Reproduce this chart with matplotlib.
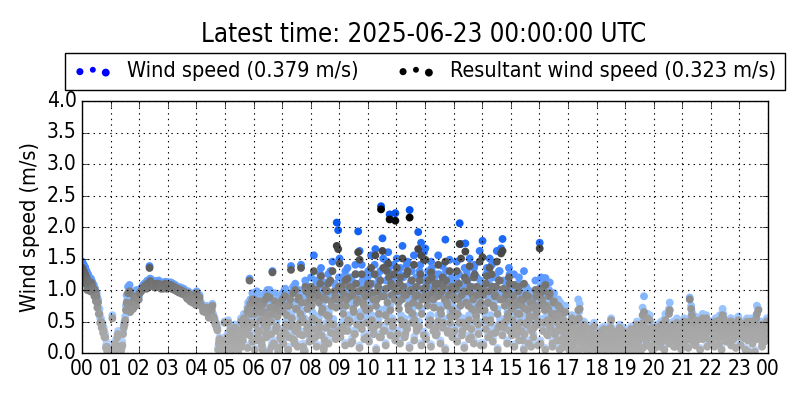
import matplotlib
matplotlib.use("Agg")
import matplotlib.pyplot as plt
import numpy as np
from matplotlib.colors import LinearSegmentedColormap, Normalize
from matplotlib.legend_handler import HandlerPathCollection

title = "Latest time: 2025-06-23 00:00:00 UTC"
ws_label = "Wind speed (0.379 m/s)"
rs_label = "Resultant wind speed (0.323 m/s)"
ylabel = "Wind speed (m/s)"
hour_labels = ["%02d" % (h % 24) for h in range(25)]

# wind speed per hour, first set of samples (in time order within each hour)
ws_hours_a = [
    [1.45,1.40,1.36,1.30,1.25,1.20,1.18,1.12,1.08,1.02,0.95,0.85,0.70,0.55,0.48,0.40,0.30,0.18,0.10,0.05],
    [0.12,0.60,0.05,0.20,0.08,0.35,0.15,0.05,0.18,0.45,0.58,0.92,1.05,1.08,0.95,0.85,0.98,0.90,1.00,0.95],
    [0.98,1.02,1.05,1.08,1.10,1.06,1.12,1.38,1.15,1.10,1.12,1.08,1.14,1.10,1.12,1.06,1.10,1.08,1.13,1.05],
    [1.10,1.08,1.12,1.05,1.06,1.08,1.02,1.05,1.00,1.04,0.98,1.02,0.95,0.92,0.98,0.88,0.95,0.85,0.90,0.82],
    [0.98,0.85,0.92,0.80,0.75,0.72,0.70,0.75,0.65,0.62,0.68,0.78,0.58,0.50,0.45,0.10,0.25,0.05,0.15,0.03],
    [0.25,0.10,0.52,0.05,0.20,0.35,0.15,0.45,0.30,0.08,0.40,0.55,0.25,0.62,0.50,0.35,0.80,1.18,0.70,0.95],
    [0.90,0.55,0.98,0.30,0.75,0.85,0.10,0.65,0.95,0.45,0.70,1.00,0.60,1.30,0.20,0.85,0.50,0.05,0.78,0.92],
    [0.95,0.40,1.02,0.70,0.10,0.85,1.38,0.55,0.25,1.10,0.80,0.95,0.35,1.40,0.65,0.05,1.15,0.90,0.50,1.02],
    [1.20,0.65,1.55,0.30,0.95,1.05,0.45,1.35,0.80,0.15,1.12,0.70,1.25,0.55,0.92,1.45,0.35,1.00,2.07,1.95],
    [1.50,0.85,1.10,0.40,1.30,0.95,0.60,1.20,0.20,1.05,0.75,1.40,0.90,1.93,1.62,0.50,1.15,0.85,1.00,0.30],
    [1.30,0.80,1.55,1.10,0.45,1.65,0.95,1.20,0.30,2.33,1.82,1.00,0.70,1.45,1.60,2.20,1.25,0.55,1.40,2.22],
    [1.50,0.90,1.25,0.60,1.70,1.05,0.35,1.40,0.85,2.27,1.15,0.70,1.55,1.00,0.45,1.92,1.30,1.75,0.95,1.60],
    [1.66,0.95,1.30,0.50,1.45,1.10,0.80,1.25,0.35,1.55,1.05,0.70,1.38,1.20,1.80,0.90,0.40,1.48,1.15,0.75],
    [1.20,0.65,1.45,0.95,2.06,1.73,0.40,1.10,1.74,1.30,0.85,1.50,0.30,1.05,1.35,0.75,1.20,0.50,1.62,0.90],
    [1.78,1.10,0.60,1.35,0.90,1.50,0.35,1.20,0.80,1.05,1.62,0.45,1.30,1.66,1.81,0.95,0.55,1.15,0.70,1.25],
    [1.05,0.60,1.25,0.85,0.35,1.10,0.70,0.95,0.25,1.30,0.80,0.50,1.00,0.65,0.15,0.90,0.45,1.15,0.75,0.55],
    [1.75,1.20,0.90,0.55,1.19,0.35,0.80,1.12,0.60,0.20,0.95,0.70,0.40,0.85,0.10,0.65,0.50,0.30,0.75,0.45],
    [0.30,0.45,0.15,0.55,0.25,0.08,0.40,0.85,0.78,0.20,0.35,0.50,0.10,0.28,0.42,0.05,0.18,0.32,0.48,0.22],
    [0.20,0.35,0.08,0.28,0.15,0.42,0.05,0.25,0.32,0.12,0.55,0.22,0.38,0.10,0.30,0.18,0.45,0.06,0.26,0.14],
    [0.25,0.10,0.35,0.18,0.42,0.05,0.30,0.22,0.50,0.15,0.38,0.28,0.72,0.90,0.45,0.20,0.32,0.60,0.12,0.40],
    [0.35,0.22,0.45,0.30,0.15,0.50,0.40,0.28,0.62,0.38,0.25,0.80,0.48,0.20,0.42,0.33,0.55,0.18,0.45,0.30],
    [0.45,0.55,0.35,0.50,0.30,0.88,0.75,0.48,0.40,0.58,0.25,0.52,0.44,0.38,0.62,0.46,0.32,0.54,0.42,0.50],
    [0.40,0.50,0.35,0.55,0.45,0.30,0.60,0.48,0.70,0.42,0.52,0.38,0.25,0.46,0.55,0.32,0.44,0.50,0.36,0.58],
    [0.45,0.35,0.50,0.28,0.40,0.55,0.05,0.38,0.48,0.32,0.42,0.52,0.75,0.70,0.30,0.45,0.20,0.50,0.40,0.55],
]

# wind speed per hour, second set of samples (interleaved in time with the first)
ws_hours_b = [
    [1.30,1.22,1.15,1.05,1.10,1.02,1.15,1.00,0.95,0.88,0.80,0.70,0.55,0.45,0.38,0.30,0.12,0.05,0.02,0.08],
    [0.02,0.10,0.15,0.05,0.30,0.02,0.08,0.12,0.35,0.50,0.75,0.85,0.80,0.72,0.88,0.78,0.92,0.82,0.95,0.90],
    [1.00,1.04,1.08,1.10,1.12,1.15,1.10,1.18,1.12,1.15,1.08,1.12,1.10,1.15,1.08,1.12,1.05,1.10,1.08,1.12],
    [1.12,1.10,1.06,1.10,1.04,1.06,1.05,1.00,1.02,0.98,1.00,0.96,0.98,0.90,0.94,0.86,0.92,0.88,0.84,0.80],
    [0.90,0.88,0.82,0.78,0.70,0.74,0.68,0.72,0.60,0.66,0.72,0.62,0.55,0.48,0.40,0.20,0.12,0.08,0.02,0.50],
    [0.05,0.30,0.15,0.40,0.10,0.25,0.45,0.20,0.05,0.35,0.28,0.15,0.50,0.40,0.60,0.72,0.45,0.85,0.55,0.90],
    [0.70,0.80,0.40,0.92,0.60,0.25,0.88,0.75,0.35,1.00,0.55,0.82,0.15,0.70,0.95,0.40,0.65,0.85,0.30,0.75],
    [0.75,1.00,0.50,0.85,0.30,0.95,0.62,1.05,0.20,0.80,0.45,1.00,0.70,0.90,0.15,0.55,1.08,0.78,0.35,0.95],
    [0.85,1.05,0.60,1.15,0.40,0.90,1.25,0.75,1.00,0.25,0.95,1.10,0.65,1.30,0.85,0.50,1.10,0.80,0.95,1.20],
    [0.95,1.20,0.70,1.05,0.85,1.35,0.55,1.00,1.15,0.80,0.35,1.25,0.95,1.10,0.65,1.40,0.90,1.05,0.75,1.20],
    [1.05,1.25,0.60,0.95,1.40,0.85,1.10,0.70,1.30,1.00,1.50,0.40,1.15,0.90,1.35,0.75,1.05,1.20,0.95,1.10],
    [1.10,0.80,1.35,0.95,1.20,0.55,1.05,1.45,0.75,1.10,1.30,0.90,0.60,1.20,1.05,0.85,1.40,0.70,1.15,1.00],
    [1.20,0.85,1.05,0.60,1.35,0.95,1.15,0.45,1.00,1.25,0.75,1.10,0.55,0.95,1.30,0.85,1.05,0.65,1.20,1.00],
    [0.95,1.15,0.70,1.25,0.85,1.05,0.55,1.35,0.90,1.10,0.60,1.20,0.80,0.95,1.40,0.65,1.05,0.85,1.15,0.75],
    [1.05,0.75,1.25,0.90,1.10,0.60,1.40,0.85,1.00,1.20,0.70,1.30,0.95,0.50,1.15,0.85,1.05,0.65,1.35,0.90],
    [0.80,1.00,0.45,0.90,0.70,1.20,0.55,0.85,0.95,0.35,1.05,0.75,0.60,0.90,0.40,0.80,0.65,1.00,0.50,0.85],
    [1.05,0.95,1.10,0.75,0.85,0.60,1.00,0.45,0.70,0.90,0.35,0.65,0.55,0.25,0.80,0.40,0.60,0.20,0.50,0.35],
    [0.50,0.35,0.60,0.20,0.42,0.55,0.30,0.65,0.45,0.15,0.38,0.25,0.45,0.10,0.30,0.40,0.20,0.35,0.12,0.30],
    [0.30,0.12,0.22,0.40,0.18,0.08,0.35,0.25,0.15,0.45,0.28,0.05,0.20,0.35,0.10,0.25,0.32,0.15,0.40,0.22],
    [0.15,0.30,0.22,0.08,0.40,0.28,0.12,0.35,0.20,0.45,0.05,0.30,0.55,0.40,0.25,0.62,0.35,0.15,0.45,0.28],
    [0.25,0.40,0.18,0.32,0.48,0.22,0.38,0.55,0.30,0.45,0.70,0.35,0.28,0.50,0.15,0.40,0.30,0.48,0.35,0.42],
    [0.38,0.48,0.25,0.42,0.55,0.35,0.65,0.45,0.52,0.30,0.48,0.40,0.56,0.35,0.50,0.42,0.60,0.38,0.48,0.44],
    [0.45,0.38,0.52,0.42,0.30,0.48,0.55,0.36,0.62,0.45,0.40,0.50,0.35,0.55,0.42,0.48,0.38,0.52,0.45,0.40],
    [0.38,0.48,0.30,0.45,0.52,0.35,0.42,0.55,0.25,0.48,0.38,0.60,0.45,0.35,0.50,0.40,0.30,0.48,0.52,0.42],
]

# wind speed per hour, third set: the low-speed samples
ws_hours_c = [
    [], [], [], [], [],
    [0.16,0.30,0.08,0.40,0.20,0.05,0.36,0.25,0.46,0.12,0.33,0.22],
    [0.08,0.26,0.42,0.16,0.52,0.30,0.05,0.36,0.20,0.46,0.12,0.28],
    [0.20,0.36,0.08,0.50,0.28,0.42,0.14,0.56,0.34,0.05,0.45,0.24],
    [0.26,0.46,0.14,0.56,0.34,0.08,0.48,0.20,0.40,0.54,0.28,0.42],
    [0.32,0.50,0.16,0.42,0.60,0.24,0.36,0.54,0.12,0.46,0.28,0.58],
    [0.24,0.48,0.36,0.08,0.54,0.30,0.42,0.16,0.60,0.34,0.50,0.26],
    [0.36,0.20,0.54,0.30,0.46,0.12,0.58,0.26,0.42,0.50,0.16,0.34],
    [0.28,0.54,0.14,0.42,0.34,0.60,0.20,0.48,0.08,0.40,0.58,0.30],
    [0.42,0.24,0.58,0.34,0.12,0.50,0.28,0.46,0.20,0.60,0.36,0.16],
    [0.16,0.46,0.30,0.58,0.24,0.40,0.08,0.54,0.34,0.48,0.20,0.42],
    [0.34,0.14,0.50,0.26,0.42,0.08,0.58,0.20,0.46,0.30,0.54,0.16],
    [0.20,0.42,0.08,0.34,0.50,0.14,0.38,0.26,0.54,0.12,0.30,0.46],
    [0.08,0.28,0.16,0.36,0.05,0.24,0.42,0.12,0.30,0.20,0.34,0.14],
    [0.05,0.20,0.30,0.12,0.25,0.36,0.08,0.16,0.28,0.22,0.10,0.34],
    [0.14,0.05,0.26,0.34,0.10,0.20,0.38,0.12,0.28,0.16,0.30,0.08],
    [0.12,0.26,0.16,0.34,0.08,0.28,0.20,0.36,0.14,0.30,0.22,0.10],
    [0.20,0.30,0.12,0.36,0.22,0.16,0.34,0.08,0.28,0.38,0.14,0.26],
    [0.26,0.14,0.34,0.20,0.08,0.30,0.24,0.36,0.16,0.28,0.12,0.32],
    [0.16,0.30,0.08,0.26,0.36,0.20,0.05,0.28,0.34,0.14,0.24,0.32],
]

# resultant wind speed per hour, first set
rs_hours_a = [
    [1.35,1.30,1.25,1.20,1.15,1.10,1.12,1.05,1.02,0.98,0.90,0.80,0.62,0.50,0.45,0.35,0.25,0.10,0.05,0.02],
    [0.05,0.55,0.02,0.15,0.03,0.30,0.10,0.02,0.12,0.40,0.52,0.80,0.95,0.98,0.75,0.70,0.90,0.78,0.88,0.85],
    [0.95,0.98,1.00,1.04,1.05,1.02,1.08,1.35,1.10,1.06,1.08,1.04,1.10,1.05,1.08,1.02,1.06,1.04,1.10,1.02],
    [1.06,1.05,1.08,1.02,1.03,1.04,0.98,1.02,0.97,1.00,0.95,0.98,0.92,0.88,0.95,0.85,0.92,0.80,0.86,0.78],
    [0.95,0.82,0.88,0.76,0.72,0.68,0.66,0.72,0.62,0.58,0.65,0.75,0.55,0.46,0.40,0.05,0.22,0.02,0.10,0.01],
    [0.20,0.05,0.48,0.02,0.15,0.30,0.10,0.40,0.25,0.04,0.35,0.50,0.20,0.55,0.45,0.30,0.70,1.15,0.62,0.85],
    [0.85,0.45,0.80,0.25,0.65,0.75,0.05,0.55,0.85,0.40,0.60,0.88,0.50,1.28,0.15,0.72,0.42,0.02,0.68,0.80],
    [0.85,0.35,0.90,0.60,0.05,0.75,1.32,0.45,0.20,1.00,0.70,0.85,0.30,1.35,0.55,0.02,1.05,0.80,0.45,0.92],
    [1.05,0.55,1.30,0.25,0.85,0.92,0.40,1.22,0.70,0.10,1.00,0.60,1.10,0.48,0.82,1.30,0.30,0.90,1.70,1.65],
    [1.42,0.75,0.98,0.35,1.15,0.85,0.52,1.05,0.15,0.92,0.65,1.25,0.80,1.60,1.48,0.45,1.00,0.75,0.90,0.25],
    [1.10,0.70,1.35,0.95,0.40,1.55,0.85,1.05,0.25,2.28,1.62,0.90,0.60,1.30,1.42,2.12,1.10,0.50,1.25,2.10],
    [1.35,0.80,1.10,0.52,1.50,0.95,0.30,1.25,0.75,2.15,1.00,0.62,1.40,0.90,0.40,1.65,1.15,1.55,0.85,1.48],
    [1.48,0.85,1.15,0.45,1.28,0.95,0.72,1.10,0.30,1.40,0.92,0.62,1.20,1.05,1.45,0.80,0.35,1.30,1.00,0.68],
    [1.05,0.58,1.30,0.85,1.73,1.50,0.35,0.98,1.61,1.15,0.75,1.38,0.25,0.92,1.20,0.65,1.05,0.45,1.45,0.80],
    [1.52,0.98,0.52,1.22,0.80,1.35,0.30,1.05,0.72,0.92,1.45,0.40,1.15,1.58,1.62,0.85,0.50,1.00,0.62,1.10],
    [0.92,0.52,1.08,0.75,0.30,0.98,0.62,0.85,0.20,1.10,0.70,0.45,0.90,0.58,0.10,0.80,0.40,1.00,0.65,0.50],
    [1.66,1.02,0.80,0.48,1.08,0.30,0.70,0.95,0.52,0.15,0.82,0.62,0.35,0.75,0.05,0.58,0.45,0.25,0.65,0.40],
    [0.25,0.40,0.10,0.50,0.20,0.04,0.35,0.68,0.70,0.15,0.30,0.45,0.06,0.24,0.38,0.02,0.14,0.28,0.42,0.18],
    [0.15,0.30,0.04,0.24,0.10,0.38,0.02,0.20,0.28,0.08,0.52,0.18,0.34,0.06,0.25,0.14,0.40,0.03,0.22,0.10],
    [0.20,0.06,0.30,0.14,0.38,0.02,0.25,0.18,0.45,0.10,0.34,0.24,0.60,0.65,0.40,0.15,0.28,0.52,0.08,0.35],
    [0.30,0.18,0.40,0.25,0.10,0.45,0.35,0.24,0.52,0.34,0.20,0.68,0.42,0.15,0.38,0.28,0.48,0.14,0.40,0.26],
    [0.40,0.50,0.30,0.45,0.25,0.85,0.70,0.44,0.36,0.52,0.20,0.48,0.40,0.34,0.55,0.42,0.28,0.50,0.38,0.45],
    [0.35,0.45,0.30,0.50,0.40,0.25,0.52,0.44,0.60,0.38,0.48,0.34,0.20,0.42,0.50,0.28,0.40,0.45,0.32,0.52],
    [0.40,0.30,0.45,0.24,0.35,0.50,0.02,0.34,0.44,0.28,0.38,0.48,0.62,0.68,0.25,0.40,0.15,0.45,0.35,0.50],
]

# resultant wind speed per hour, second set
rs_hours_b = [
    [1.25,1.18,1.10,1.00,1.05,0.98,1.10,0.96,0.90,0.82,0.72,0.62,0.48,0.40,0.32,0.25,0.08,0.02,0.01,0.04],
    [0.01,0.05,0.10,0.02,0.25,0.01,0.04,0.08,0.30,0.45,0.68,0.78,0.72,0.65,0.80,0.70,0.85,0.75,0.88,0.85],
    [0.96,1.00,1.04,1.06,1.08,1.10,1.06,1.14,1.08,1.10,1.04,1.08,1.06,1.10,1.04,1.08,1.02,1.06,1.04,1.08],
    [1.08,1.06,1.02,1.06,1.00,1.02,1.00,0.96,0.98,0.94,0.96,0.92,0.94,0.86,0.90,0.82,0.88,0.84,0.80,0.76],
    [0.86,0.84,0.78,0.74,0.66,0.70,0.64,0.68,0.56,0.62,0.68,0.58,0.50,0.44,0.36,0.15,0.08,0.04,0.01,0.48],
    [0.02,0.25,0.10,0.36,0.06,0.20,0.40,0.15,0.02,0.30,0.24,0.10,0.45,0.35,0.52,0.65,0.40,0.78,0.48,0.82],
    [0.62,0.70,0.35,0.82,0.52,0.20,0.78,0.65,0.30,0.90,0.48,0.72,0.10,0.62,0.82,0.35,0.58,0.75,0.25,0.68],
    [0.65,0.90,0.45,0.75,0.25,0.85,0.55,0.95,0.15,0.70,0.40,0.88,0.62,0.80,0.10,0.48,0.98,0.70,0.30,0.85],
    [0.75,0.92,0.52,1.00,0.35,0.80,1.10,0.65,0.88,0.20,0.85,0.98,0.58,1.15,0.75,0.45,0.98,0.72,0.85,1.05],
    [0.85,1.05,0.62,0.92,0.75,1.18,0.48,0.90,1.02,0.70,0.30,1.10,0.85,0.98,0.58,1.25,0.80,0.92,0.68,1.05],
    [0.92,1.10,0.52,0.85,1.25,0.75,0.98,0.62,1.15,0.90,1.35,0.35,1.02,0.80,1.20,0.68,0.92,1.05,0.85,0.98],
    [0.98,0.70,1.20,0.85,1.05,0.48,0.92,1.30,0.68,0.98,1.15,0.80,0.52,1.05,0.92,0.75,1.25,0.62,1.02,0.90],
    [1.05,0.75,0.92,0.52,1.20,0.85,1.02,0.40,0.90,1.10,0.68,0.98,0.48,0.85,1.15,0.75,0.92,0.58,1.05,0.90],
    [0.85,1.02,0.62,1.10,0.75,0.92,0.48,1.20,0.80,0.98,0.52,1.05,0.70,0.85,1.25,0.58,0.92,0.75,1.02,0.68],
    [0.92,0.68,1.10,0.80,0.98,0.52,1.25,0.75,0.90,1.05,0.62,1.15,0.85,0.45,1.02,0.75,0.92,0.58,1.20,0.80],
    [0.70,0.90,0.40,0.80,0.62,1.05,0.48,0.75,0.85,0.30,0.92,0.68,0.52,0.80,0.35,0.72,0.58,0.90,0.45,0.75],
    [0.95,0.85,0.98,0.68,0.75,0.52,0.90,0.40,0.62,0.80,0.30,0.58,0.48,0.20,0.70,0.35,0.52,0.15,0.45,0.30],
    [0.45,0.30,0.55,0.15,0.38,0.50,0.25,0.55,0.40,0.10,0.34,0.20,0.40,0.06,0.25,0.36,0.15,0.30,0.08,0.25],
    [0.25,0.08,0.18,0.35,0.14,0.04,0.30,0.20,0.10,0.40,0.24,0.02,0.16,0.30,0.06,0.20,0.28,0.10,0.35,0.18],
    [0.10,0.25,0.18,0.04,0.35,0.24,0.08,0.30,0.15,0.40,0.02,0.25,0.48,0.35,0.20,0.55,0.30,0.10,0.40,0.24],
    [0.20,0.35,0.14,0.28,0.42,0.18,0.34,0.48,0.26,0.40,0.62,0.30,0.24,0.45,0.10,0.35,0.26,0.42,0.30,0.38],
    [0.34,0.44,0.20,0.38,0.50,0.30,0.60,0.40,0.48,0.26,0.44,0.36,0.52,0.30,0.45,0.38,0.55,0.34,0.44,0.40],
    [0.40,0.34,0.48,0.38,0.26,0.44,0.50,0.32,0.55,0.40,0.36,0.45,0.30,0.50,0.38,0.44,0.34,0.48,0.40,0.36],
    [0.34,0.44,0.25,0.40,0.48,0.30,0.38,0.50,0.20,0.44,0.34,0.55,0.40,0.30,0.45,0.36,0.25,0.44,0.48,0.38],
]

# resultant wind speed per hour, third set: the low-speed samples
rs_hours_c = [
    [], [], [], [], [],
    [0.10,0.25,0.05,0.35,0.15,0.02,0.30,0.20,0.40,0.08,0.28,0.18],
    [0.05,0.20,0.35,0.12,0.45,0.25,0.02,0.30,0.15,0.40,0.08,0.22],
    [0.15,0.30,0.05,0.42,0.22,0.35,0.10,0.48,0.28,0.02,0.38,0.18],
    [0.20,0.38,0.10,0.48,0.28,0.05,0.40,0.15,0.32,0.45,0.22,0.35],
    [0.25,0.42,0.12,0.35,0.50,0.18,0.30,0.45,0.08,0.38,0.22,0.48],
    [0.18,0.40,0.30,0.05,0.45,0.25,0.35,0.12,0.50,0.28,0.42,0.20],
    [0.30,0.15,0.45,0.25,0.38,0.08,0.48,0.20,0.35,0.42,0.12,0.28],
    [0.22,0.45,0.10,0.35,0.28,0.50,0.15,0.40,0.05,0.32,0.48,0.25],
    [0.35,0.18,0.48,0.28,0.08,0.42,0.22,0.38,0.15,0.50,0.30,0.12],
    [0.12,0.38,0.25,0.48,0.18,0.32,0.05,0.45,0.28,0.40,0.15,0.35],
    [0.28,0.10,0.42,0.20,0.35,0.05,0.48,0.15,0.38,0.25,0.45,0.12],
    [0.15,0.35,0.05,0.28,0.42,0.10,0.32,0.20,0.45,0.08,0.25,0.38],
    [0.05,0.22,0.12,0.30,0.02,0.18,0.35,0.08,0.25,0.15,0.28,0.10],
    [0.02,0.15,0.25,0.08,0.20,0.30,0.05,0.12,0.22,0.18,0.06,0.28],
    [0.10,0.02,0.20,0.28,0.06,0.15,0.32,0.08,0.22,0.12,0.25,0.04],
    [0.08,0.20,0.12,0.28,0.05,0.22,0.15,0.30,0.10,0.25,0.18,0.06],
    [0.15,0.25,0.08,0.30,0.18,0.12,0.28,0.05,0.22,0.32,0.10,0.20],
    [0.20,0.10,0.28,0.15,0.05,0.25,0.18,0.30,0.12,0.22,0.08,0.26],
    [0.12,0.25,0.05,0.20,0.30,0.15,0.02,0.22,0.28,0.10,0.18,0.26],
]


def flatten(hours, offset):
    t, v = [], []
    for h, vals in enumerate(hours):
        n = len(vals)
        for i, val in enumerate(vals):
            t.append(h + (i + offset) / n)
            v.append(val)
    return t, v


def series(sets_offsets):
    t_all, v_all = [], []
    for hours, off in sets_offsets:
        t, v = flatten(hours, off)
        t_all += t
        v_all += v
    order = np.argsort(t_all, kind="stable")
    return np.array(t_all)[order], np.array(v_all)[order]


t_ws, v_ws = series([(ws_hours_a, 0.25), (ws_hours_b, 0.75), (ws_hours_c, 0.5)])
t_rs, v_rs = series([(rs_hours_a, 0.25), (rs_hours_b, 0.75), (rs_hours_c, 0.5)])

plt.style.use("classic")
plt.rcParams["font.family"] = ["DejaVu Sans"]
plt.rcParams["font.stretch"] = "condensed"
plt.rcParams["figure.facecolor"] = "white"
plt.rcParams["savefig.facecolor"] = "white"

fig = plt.figure(figsize=(8, 4), dpi=100)
ax = fig.add_axes([0.1025, 0.1175, 0.8575, 0.63])

blue_cmap = LinearSegmentedColormap.from_list(
    "wsb", [(0.0, "#bcd6ff"), (0.125, "#b0d0ff"), (0.333, "#90c0ff"),
            (0.417, "#72a9ff"), (0.625, "#3a80ff"), (0.833, "#0a5af0"), (1.0, "#0050e8")])
grey_cmap = LinearSegmentedColormap.from_list(
    "rsg", [(0.0, "#acacac"), (0.18, "#a6a6a6"), (0.364, "#909090"), (0.477, "#767676"),
            (0.636, "#585858"), (0.773, "#404040"), (1.0, "#000000")])

ax.scatter(t_ws, v_ws, c=v_ws, cmap=blue_cmap, norm=Normalize(0, 2.4), s=32,
           edgecolors="none", zorder=1)
ax.scatter(t_rs, v_rs, c=v_rs, cmap=grey_cmap, norm=Normalize(0, 2.2), s=32,
           edgecolors="none", zorder=1.1)

ax.set_xlim(0, 24)
ax.set_ylim(0, 4)
ax.set_xticks(range(25))
ax.set_xticklabels(hour_labels)
ax.set_yticks(np.arange(0, 4.01, 0.5))
ax.set_yticklabels(["%.1f" % y for y in np.arange(0, 4.01, 0.5)])
ax.tick_params(labelsize=15, direction="in", top=True, right=True)
ax.set_axisbelow(False)
ax.grid(True, linestyle=":", color="black", linewidth=0.8)
ax.set_ylabel(ylabel, fontsize=15.5)

h1 = ax.scatter([], [], s=20, c="#0000ff", edgecolors="none")
h2 = ax.scatter([], [], s=20, c="#000000", edgecolors="none")
hmap = {h1: HandlerPathCollection(sizes=[26, 18, 32]),
        h2: HandlerPathCollection(sizes=[26, 18, 32])}
ax.legend([h1, h2], [ws_label, rs_label], ncol=2, loc="lower left",
          bbox_to_anchor=(-0.025, 1.044, 1.05, 0.139), mode="expand",
          fontsize=15.5, scatterpoints=3, frameon=True, borderaxespad=0,
          handlelength=1.8, handletextpad=0.7, fancybox=False, handler_map=hmap)

fig.text(0.53, 0.912, title, ha="center", va="center", fontsize=18.5)

fig.savefig("out.png", dpi=100)
